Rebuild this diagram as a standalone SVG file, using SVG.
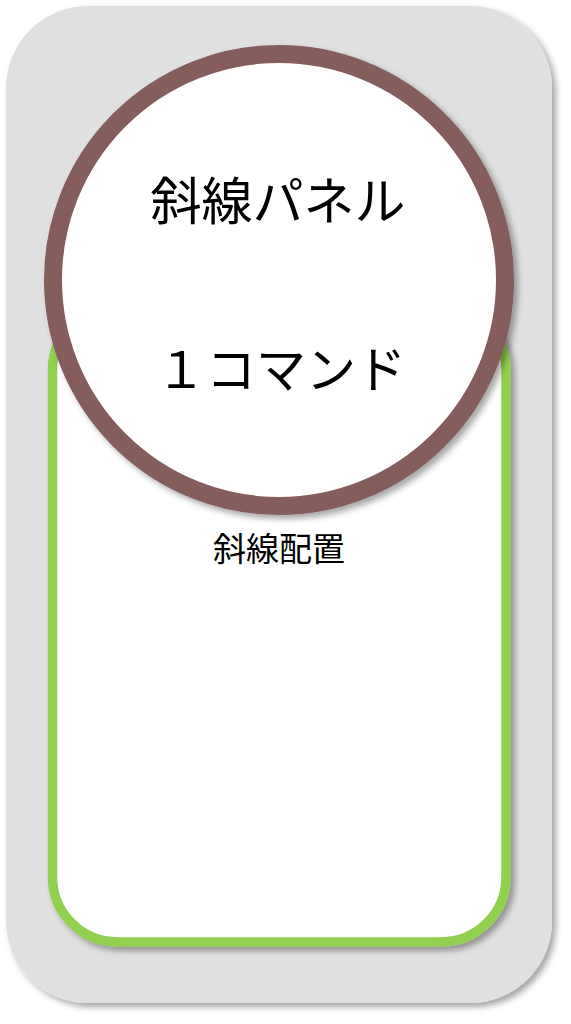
<svg xmlns="http://www.w3.org/2000/svg" width="571" height="1024" viewBox="0 0 571 1024">
<style>
.t{font-family:"Noto Sans CJK JP","Noto Sans CJK SC",sans-serif;fill:#000;text-anchor:middle}
</style>
<defs>
<filter id="sh" x="-10%" y="-10%" width="125%" height="125%">
<feDropShadow dx="4" dy="4" stdDeviation="3" flood-color="#000" flood-opacity="0.35"/>
</filter>
</defs>
<g id="container">
<rect x="6" y="6" width="546" height="997" rx="82" ry="82" fill="#e0e0e0" filter="url(#sh)"/>
</g>
<g id="group-box">
<rect x="52.5" y="305" width="453.5" height="637" rx="65" ry="65" fill="#ffffff" stroke="#92d050" stroke-width="9.5" filter="url(#sh)"/>
<text class="t" x="279" y="561" font-size="33">斜線配置</text>
</g>
<g id="circle-node">
<circle cx="279" cy="280" r="226" fill="#ffffff" stroke="#855d5c" stroke-width="18" filter="url(#sh)"/>
<text class="t" x="278" y="220" font-size="51">斜線パネル</text>
<text class="t" x="281" y="388" font-size="50">１コマンド</text>
</g>
<g id="connectors"/>
</svg>
